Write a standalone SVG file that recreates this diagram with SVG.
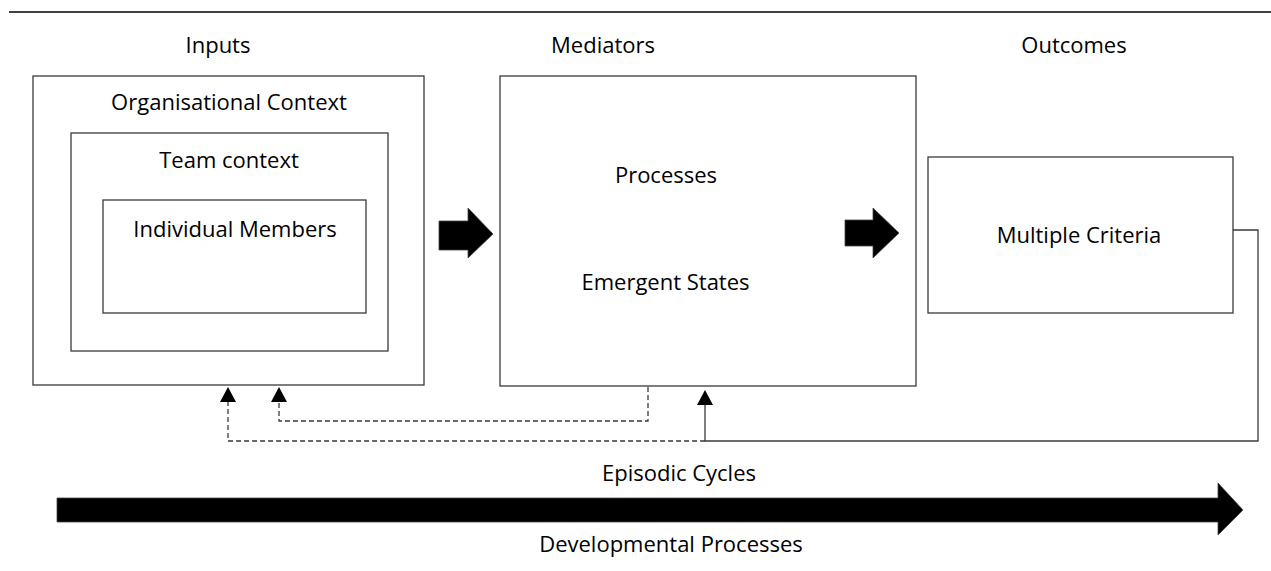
<svg xmlns="http://www.w3.org/2000/svg" width="1271" height="571" viewBox="0 0 1271 571">
<style>
text{font-family:"Open Sans","Liberation Sans",sans-serif;font-size:22px;fill:#000;text-anchor:middle}
.box{fill:#fff;stroke:#3a3a3a;stroke-width:1.3}
.dash{fill:none;stroke:#3a3a3a;stroke-width:1.3;stroke-dasharray:5 3}
.solid{fill:none;stroke:#3a3a3a;stroke-width:1.3}
.blk{fill:#000;stroke:#444;stroke-width:0.8}
.head{fill:#000}
</style>
<rect width="1271" height="571" fill="#fff"/>
<line x1="9" y1="12" x2="1271" y2="12" stroke="#000" stroke-width="1.5"/>
<g id="headings">
<text x="218" y="53">Inputs</text>
<text x="603" y="53">Mediators</text>
<text x="1074" y="53">Outcomes</text>
</g>
<g id="inputs">
<rect class="box" x="33" y="76" width="391" height="309"/>
<text x="229" y="110">Organisational Context</text>
</g>
<g id="team">
<rect class="box" x="71" y="133" width="317" height="218"/>
<text x="229" y="168">Team context</text>
</g>
<g id="individual">
<rect class="box" x="103" y="200" width="263" height="113"/>
<text x="235" y="237">Individual Members</text>
</g>
<g id="mediators">
<rect class="box" x="500" y="76" width="416" height="310"/>
<text x="666" y="183">Processes</text>
<text x="665.5" y="290">Emergent States</text>
</g>
<g id="outcomes">
<rect class="box" x="928" y="157" width="305" height="156"/>
<text x="1079" y="243">Multiple Criteria</text>
</g>
<g id="connectors">
<path class="blk" d="M439 221 H468 V208 L493 234 L468 258 V250 H439 Z"/>
<path class="blk" d="M845 220 H873 V208 L899 233 L873 258 V246 H845 Z"/>
<path class="dash" d="M648 387 V421 H279 V402"/>
<path class="head" d="M279 387 L287 402 L271 402 Z"/>
<path class="dash" d="M705 441 H228 V402"/>
<path class="head" d="M228 387 L236 402 L220 402 Z"/>
<path class="solid" d="M1233 230 H1258 V441 H705 V405"/>
<path class="head" d="M705 390 L713 405 L697 405 Z"/>
<path class="blk" d="M57 498 H1218 V483 L1243 510 L1218 535 V522 H57 Z"/>
</g>
<g id="labels">
<text x="679" y="481">Episodic Cycles</text>
<text x="671" y="552">Developmental Processes</text>
</g>
</svg>
